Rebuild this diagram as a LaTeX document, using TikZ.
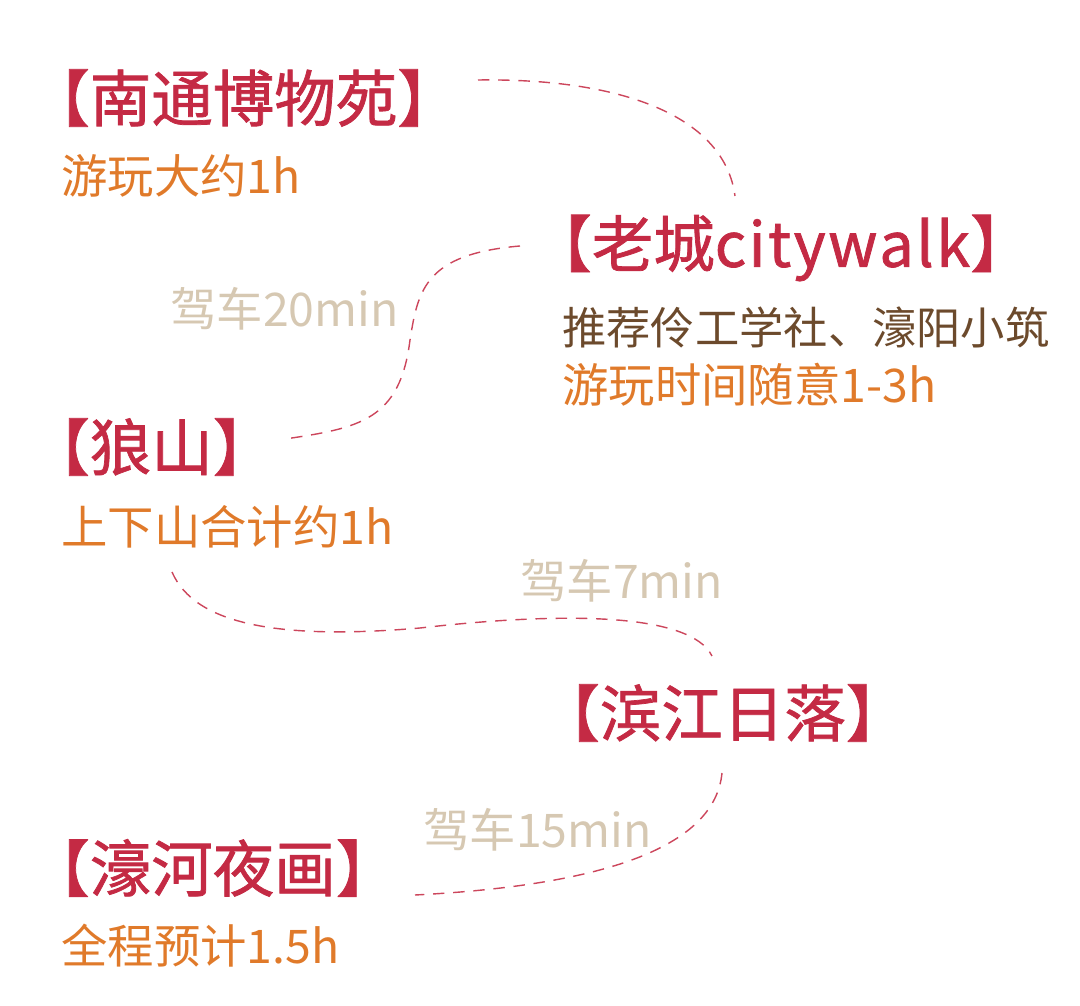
\documentclass[tikz,border=0pt]{standalone}
\usepackage{fontspec}
\setmainfont{Noto Sans CJK SC}
\newfontfamily\titlefont[FakeBold=1.2]{Noto Sans CJK SC}
\usetikzlibrary{positioning}
\definecolor{spotred}{RGB}{196,42,68}
\definecolor{tiporange}{RGB}{224,122,42}
\definecolor{notebrown}{RGB}{108,74,44}
\definecolor{drivebeige}{RGB}{214,200,178}
\definecolor{routered}{RGB}{204,70,92}

\begin{document}
\begin{tikzpicture}[
    x=0.02cm, y=-0.02cm,
    spot/.style={anchor=west, inner sep=0pt, text=spotred, font=\titlefont\fontsize{35pt}{37pt}\selectfont},
    tip/.style={anchor=west, inner sep=0pt, text=tiporange, font=\fontsize{26.4pt}{28pt}\selectfont},
    note/.style={anchor=west, inner sep=0pt, text=notebrown, font=\fontsize{25.2pt}{28pt}\selectfont},
    drive/.style={anchor=west, inner sep=0pt, text=drivebeige, font=\fontsize{26.4pt}{28pt}\selectfont},
    route/.style={routered, line width=0.8pt, dash pattern=on 6.5pt off 5pt}
]
\useasboundingbox (0,0) rectangle (1080,1006);

% ============ stops ============
\node[spot] (nantong) at (28,98) {【南通博物苑】};
\node[tip] (nantong-time) at (61,176) {游玩大约1h};

\node[spot] (oldtown) at (530,248) {【老城{\addfontfeature{LetterSpace=4}citywalk}】};
\node[note] (oldtown-note) at (562,327) {推荐伶工学社、濠阳小筑};
\node[tip] (oldtown-time) at (562,385) {游玩时间随意1-3h};

\node[spot] (langshan) at (28,447) {【狼山】};
\node[tip] (langshan-time) at (61,527) {上下山合计约1h};

\node[spot] (binjiang) at (538,713) {【滨江日落】};

\node[spot] (haohe) at (28,868) {【濠河夜画】};
\node[tip] (haohe-time) at (61,946) {全程预计1.5h};

% ============ drives ============
\node[drive] (drive-a) at (170,309) {驾车20min};
\node[drive] (drive-b) at (520,581) {驾车7min};
\node[drive] (drive-c) at (423,830) {驾车15min};

% ============ routes ============
\coordinate (r1-from) at (478,80);
\coordinate (r1-to) at (735,196);
\coordinate (r2-from) at (520,246);
\coordinate (r2-mid) at (410,340);
\coordinate (r2-to) at (285,439);
\coordinate (r3-from) at (172,572);
\coordinate (r3-mid) at (420,628);
\coordinate (r3-to) at (712,656);
\coordinate (r4-from) at (722,773);
\coordinate (r4-to) at (415,895);

\draw[route] (r1-from) .. controls (630,78) and (725,120) .. (r1-to);
\draw[route] (r2-from) .. controls (425,254) and (418,290) .. (r2-mid)
    .. controls (400,420) and (360,428) .. (r2-to);
\draw[route] (r3-from) .. controls (195,625) and (280,640) .. (r3-mid)
    .. controls (560,612) and (690,612) .. (r3-to);
\draw[route] (r4-from) .. controls (715,845) and (610,885) .. (r4-to);

\end{tikzpicture}
\end{document}
